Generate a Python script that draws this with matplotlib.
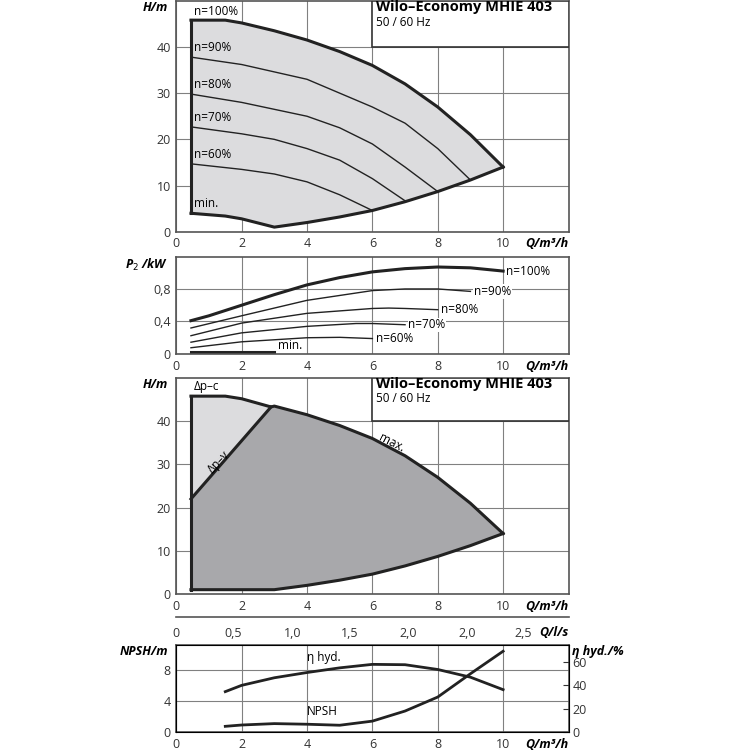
import matplotlib
matplotlib.use("Agg")
import matplotlib.pyplot as plt
from matplotlib.patches import Rectangle

plt.rcParams['font.family'] = ['Open Sans', 'DejaVu Sans']
plt.rcParams['font.size'] = 9

# ---- data ----
q_max = [0.45, 1.5, 2, 3, 4, 5, 6, 7, 8, 9, 10]
h_max = [45.8, 45.8, 45.2, 43.5, 41.5, 39, 36, 32, 27, 21, 14]
q_min = [0.45, 1.5, 2, 3, 4, 5, 6, 7, 8, 9, 10]
h_min = [4, 3.4, 2.8, 1, 2, 3.2, 4.6, 6.5, 8.7, 11.2, 14]
speed_q = {
    'n=90%': [0.45, 2, 4, 6, 7, 8, 9],
    'n=80%': [0.45, 2, 4, 5, 6, 7, 8],
    'n=70%': [0.45, 2, 3, 4, 5, 6, 7],
    'n=60%': [0.45, 2, 3, 4, 5, 6],
}
speed_h = {
    'n=90%': [37.8, 36.2, 33, 27, 23.5, 18, 11.2],
    'n=80%': [29.8, 28, 25, 22.5, 19, 14, 8.7],
    'n=70%': [22.7, 21.2, 20, 18, 15.5, 11.5, 6.7],
    'n=60%': [14.7, 13.5, 12.5, 10.8, 8, 4.6],
}
p_q = {
    'n=100%': [0.45, 1, 2, 3, 4, 5, 6, 7, 8, 9, 10],
    'n=90%': [0.45, 2, 4, 6, 7, 8, 9],
    'n=80%': [0.45, 2, 4, 6, 6.5, 7, 8],
    'n=70%': [0.45, 2, 4, 5.5, 6, 7],
    'n=60%': [0.45, 2, 4, 5, 6],
}
p_val = {
    'n=100%': [0.41, 0.47, 0.6, 0.73, 0.85, 0.94, 1.01, 1.05, 1.07, 1.06, 1.02],
    'n=90%': [0.32, 0.47, 0.66, 0.78, 0.8, 0.8, 0.77],
    'n=80%': [0.225, 0.38, 0.5, 0.56, 0.565, 0.56, 0.545],
    'n=70%': [0.145, 0.26, 0.34, 0.375, 0.375, 0.36],
    'n=60%': [0.077, 0.15, 0.2, 0.205, 0.19],
}
p_min_q = [0.45, 3]
p_min = [0.02, 0.02]
dpv_q = [0.45, 2.9]
dpv_h = [22, 43.3]
npsh_q = [1.5, 2, 3, 4, 5, 6, 7, 8, 9, 10]
npsh = [0.73, 0.9, 1.08, 1.0, 0.87, 1.4, 2.7, 4.5, 7.5, 10.4]
eta_q = [1.5, 2, 3, 4, 5, 6, 7, 8, 9, 10]
eta = [34.6, 40, 46.5, 51, 55, 58, 57.7, 53.6, 47, 36.3]
qls_pos = [0, 1.74, 3.55, 5.32, 7.1, 8.9, 10.6]
qls_labels = ['0', '0,5', '1,0', '1,5', '2,0', '2,0', '2,5']

GRID = '#808080'
LIGHT = '#dcdcde'
DARK = '#a8a8ab'

fig = plt.figure(figsize=(7.5, 7.5), dpi=100)

def setup(ax, ylim, yticks, yticklabels=None):
    ax.set_xlim(0, 12)
    ax.set_ylim(*ylim)
    ax.set_xticks([0, 2, 4, 6, 8, 10])
    ax.set_yticks(yticks)
    if yticklabels:
        ax.set_yticklabels(yticklabels)
    ax.grid(True, color=GRID, lw=0.8)
    ax.set_axisbelow(True)
    for s in ax.spines.values():
        s.set_color('#555555'); s.set_linewidth(1.2)
    ax.tick_params(length=0, pad=4, colors='#333333')
    ax.annotate('Q/m³/h', xy=(1, 0), xycoords='axes fraction', xytext=(0, -4),
                textcoords='offset points', ha='right', va='top',
                fontweight='bold', fontstyle='italic', fontsize=9)

def title_box(ax):
    ax.add_patch(Rectangle((6, 40), 6, 10, facecolor='white', edgecolor='#333333', lw=1.2, zorder=3))
    ax.text(6.1, 48.6, 'Wilo–Economy MHIE 403', fontweight='bold', fontsize=10.5, va='center', zorder=4)
    ax.text(6.1, 45.3, '50 / 60 Hz', fontsize=8.5, va='center', zorder=4)

# ---- panel 1 ----
ax1 = fig.add_axes([0.235, 0.691, 0.523, 0.308])
setup(ax1, (0, 50), [0, 10, 20, 30, 40])
ax1.fill(q_max + q_min[::-1], h_max + h_min[::-1], color=LIGHT, zorder=1)
ax1.plot(q_max, h_max, color='#222222', lw=2.2, zorder=2)
ax1.plot(q_min, h_min, color='#222222', lw=2.2, zorder=2)
ax1.plot([0.45, 0.45], [h_min[0], h_max[0]], color='#222222', lw=2.2, zorder=2)
for k in speed_q:
    ax1.plot(speed_q[k], speed_h[k], color='#222222', lw=1.0, zorder=2)
    ax1.text(0.55, speed_h[k][0] + 0.6, k, fontsize=8.5, va='bottom', zorder=3)
ax1.text(0.55, 46.3, 'n=100%', fontsize=8.5, va='bottom')
ax1.text(0.55, 4.8, 'min.', fontsize=8.5, va='bottom')
title_box(ax1)
ax1.text(-0.25, 50, 'H/m', ha='right', va='top', fontweight='bold', fontstyle='italic', fontsize=9)

# ---- panel 2 ----
ax2 = fig.add_axes([0.235, 0.528, 0.523, 0.129])
setup(ax2, (0, 1.19), [0, 0.4, 0.8], ['0', '0,4', '0,8'])
for k in p_q:
    lw = 2.2 if k == 'n=100%' else 1.0
    ax2.plot(p_q[k], p_val[k], color='#222222', lw=lw)
    ax2.text(p_q[k][-1] + 0.1, p_val[k][-1], k, fontsize=8.5, va='center',
             bbox=dict(facecolor='white', edgecolor='none', pad=0.5))
ax2.plot(p_min_q, p_min, color='#222222', lw=2.2)
ax2.text(3.1, 0.02, 'min.', fontsize=8.5, va='bottom')
ax2.text(-0.25, 1.19, 'P$_2$ /kW', ha='right', va='top', fontweight='bold', fontstyle='italic', fontsize=9)

# ---- panel 3 ----
ax3 = fig.add_axes([0.235, 0.208, 0.523, 0.288])
setup(ax3, (0, 50), [0, 10, 20, 30, 40])
light_x = [0.45, 1.5, 2, dpv_q[1], dpv_q[0]]
light_y = [45.8, 45.8, 45.2, dpv_h[1], dpv_h[0]]
ax3.fill(light_x, light_y, color=LIGHT, zorder=1)
dark_x = [dpv_q[0], dpv_q[1]] + q_max[3:] + q_min[::-1][:-3] + [0.45]
dark_y = [dpv_h[0], dpv_h[1]] + h_max[3:] + h_min[::-1][:-3] + [1]
ax3.fill(dark_x, dark_y, color=DARK, zorder=1)
ax3.plot([0.45, 1.5, 2, dpv_q[1]] + q_max[3:], [45.8, 45.8, 45.2, dpv_h[1]] + h_max[3:], color='#222222', lw=2.2, zorder=2)
ax3.plot([0.45] + q_min[3:], [1] + h_min[3:], color='#222222', lw=2.2, zorder=2)
ax3.plot([0.45, 0.45], [1, 45.8], color='#222222', lw=2.2, zorder=2)
ax3.plot(dpv_q, dpv_h, color='#222222', lw=2.2, zorder=2)
ax3.text(0.55, 46.5, 'Δp–c', fontsize=8.5, va='bottom')
ax3.text(1.3, 30.5, 'Δp–v', fontsize=8.5, rotation=47, ha='center', va='center')
ax3.text(6.6, 35.0, 'max.', fontsize=8.5, rotation=-27, ha='center', va='center')
title_box(ax3)
ax3.text(-0.25, 50, 'H/m', ha='right', va='top', fontweight='bold', fontstyle='italic', fontsize=9)

# ---- secondary l/s axis ----
axs = fig.add_axes([0.235, 0.177, 0.523, 0.0001])
axs.set_xlim(0, 12)
axs.set_yticks([])
for s in ['left', 'right', 'bottom']:
    axs.spines[s].set_visible(False)
axs.spines['top'].set_color('#555555'); axs.spines['top'].set_linewidth(1.2)
axs.set_xticks(qls_pos)
axs.set_xticklabels(qls_labels)
axs.tick_params(axis='x', direction='in', length=0, pad=7, colors='#333333')
axs.annotate('Q/l/s', xy=(1, 0), xycoords='axes fraction', xytext=(0, -6),
             textcoords='offset points', ha='right', va='top',
             fontweight='bold', fontstyle='italic', fontsize=9)

# ---- panel 4 ----
ax4 = fig.add_axes([0.235, 0.024, 0.523, 0.116])
setup(ax4, (0, 11.2), [0, 4, 8])
ax4.plot(npsh_q, npsh, color='#222222', lw=2.0)
ax4r = ax4.twinx()
ax4r.set_ylim(0, 74.6)
ax4r.set_yticks([0, 20, 40, 60])
ax4r.tick_params(length=4, direction='in', colors='#333333', pad=3)
ax4r.plot(eta_q, eta, color='#222222', lw=2.0)
ax4.text(4.0, 1.8, 'NPSH', fontsize=8.5, va='bottom')
ax4.text(4.0, 8.8, 'η hyd.', fontsize=8.5, va='bottom')
ax4.text(-0.25, 11.2, 'NPSH/m', ha='right', va='top', fontweight='bold', fontstyle='italic', fontsize=9)
ax4.text(12.1, 11.2, 'η hyd./%', ha='left', va='top', fontweight='bold', fontstyle='italic', fontsize=9)

fig.savefig('out.png', dpi=100)
